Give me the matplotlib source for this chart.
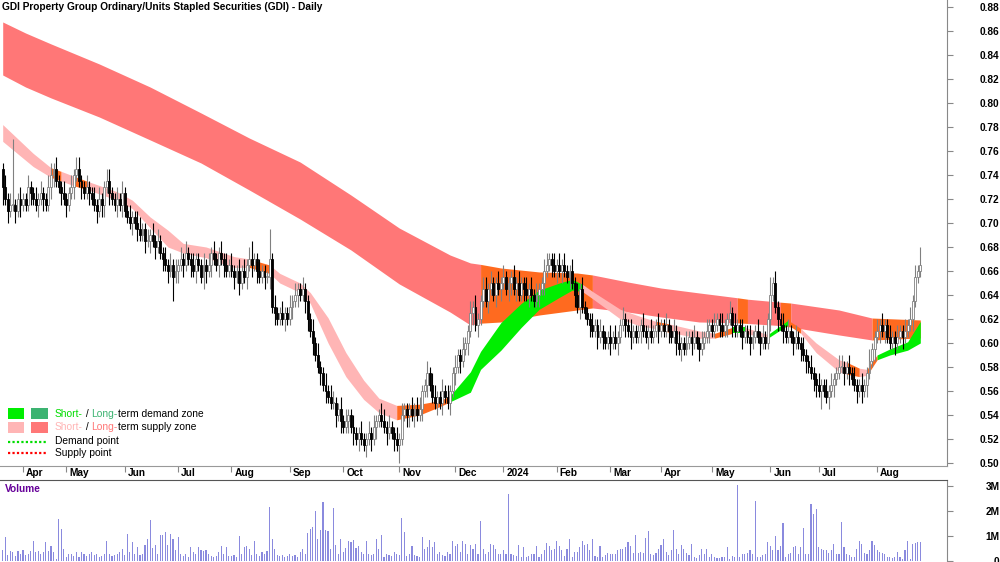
import matplotlib
matplotlib.use("Agg")
import matplotlib.pyplot as plt
import matplotlib.transforms as mtransforms
from matplotlib.patches import Rectangle
import numpy as np
import pandas as pd

plt.rcParams['font.family'] = ['Liberation Sans', 'DejaVu Sans']

TITLE = "GDI Property Group Ordinary/Units Stapled Securities (GDI) - Daily"
START = "2023-03-22"
END = "2024-08-26"
HOLIDAYS = ["2023-04-07", "2023-04-10", "2023-04-25", "2023-06-12", "2023-12-25",
            "2023-12-26", "2024-01-01", "2024-01-26", "2024-03-29", "2024-04-01",
            "2024-04-25", "2024-06-10"]

# daily closes in cents, open of first day separately
FIRST_OPEN = 74.5
CLOSES = [
    73.0, 72.0, 71.0, 71.5, 71.5, 71.0, 72.0, 71.5, 72.0, 71.5,
    73.0, 72.5, 72.0, 71.5, 72.0, 72.5, 72.0, 71.5, 73.0, 74.0,
    74.5, 73.5, 73.0, 72.5, 72.0, 71.5, 72.5, 73.0, 74.0, 74.5,
    73.5, 73.0, 72.5, 73.0, 72.5, 72.0, 71.5, 71.0, 72.0, 71.5,
    73.0, 73.5, 72.5, 72.0, 71.5, 72.0, 71.5, 72.5, 71.0, 70.5,
    70.0, 70.5, 70.0, 69.5, 69.0, 69.5, 68.5, 68.5, 69.0, 68.5,
    68.0, 68.5, 67.5, 67.0, 66.5, 66.0, 66.5, 65.5, 66.0, 66.5,
    67.0, 66.5, 67.5, 67.0, 66.5, 66.0, 67.0, 66.5, 65.5, 66.5,
    66.0, 66.5, 67.5, 67.0, 66.5, 67.5, 67.0, 66.5, 66.0, 66.5,
    66.0, 65.5, 66.0, 65.0, 66.0, 65.5, 66.5, 67.0, 66.5, 67.0,
    66.0, 65.5, 66.0, 65.5, 65.5, 67.0, 63.0, 62.5, 62.0, 62.5,
    62.0, 62.5, 62.0, 63.0, 63.5, 64.0, 64.5, 64.0, 64.5, 63.5,
    62.0, 61.0, 60.0, 59.0, 58.0, 57.5, 56.5, 56.0, 55.5, 55.0,
    55.0, 54.0, 54.5, 53.5, 53.0, 53.5, 54.0, 53.0, 52.5, 52.0,
    52.5, 52.0, 51.5, 52.0, 52.5, 52.0, 53.0, 53.5, 54.0, 53.5,
    53.0, 52.5, 53.0, 52.5, 52.0, 51.5, 52.0, 54.0, 54.5, 54.0,
    54.5, 54.0, 54.5, 54.0, 54.5, 56.0, 56.5, 57.5, 56.5, 55.5,
    55.0, 55.5, 55.0, 56.0, 55.5, 55.0, 56.0, 57.5, 58.0, 59.0,
    58.5, 59.5, 60.0, 61.0, 62.5, 63.0, 61.5, 62.0, 63.5, 64.5,
    63.5, 64.5, 65.0, 64.0, 65.0, 64.5, 65.0, 65.5, 64.5, 65.0,
    65.5, 64.5, 65.0, 64.0, 65.0, 64.5, 64.0, 64.5, 64.0, 63.5,
    64.0, 64.5, 65.0, 66.0, 66.5, 67.0, 66.5, 66.0, 66.5, 66.0,
    66.5, 66.0, 65.5, 66.0, 65.0, 64.0, 63.0, 64.5, 63.0, 62.5,
    62.0, 61.5, 61.0, 61.5, 60.5, 61.0, 60.5, 60.0, 60.5, 60.0,
    60.5, 60.0, 60.5, 61.5, 62.0, 61.5, 61.0, 60.5, 61.0, 60.5,
    61.0, 61.5, 61.0, 60.5, 61.0, 60.5, 61.0, 61.5, 61.0, 61.5,
    61.0, 61.5, 61.0, 60.5, 61.0, 60.0, 59.5, 60.0, 59.5, 60.0,
    60.5, 60.0, 60.5, 60.0, 59.5, 60.0, 60.5, 61.0, 61.5, 61.0,
    61.5, 62.0, 61.5, 61.0, 61.5, 62.0, 62.5, 61.5, 61.0, 61.5,
    61.0, 60.5, 61.0, 60.5, 60.0, 60.5, 61.0, 60.5, 60.0, 60.5,
    60.0, 62.0, 64.0, 65.0, 63.0, 62.0, 61.5, 61.0, 60.5, 61.0,
    60.5, 60.0, 60.5, 60.0, 59.5, 59.0, 58.5, 58.0, 57.5, 57.0,
    56.5, 56.0, 56.5, 56.0, 55.5, 56.0, 56.5, 57.0, 57.5, 58.0,
    58.0, 57.5, 58.0, 57.5, 57.0, 56.5, 56.0, 56.5, 56.0, 56.5,
    57.5, 58.5, 59.5, 60.5, 61.0, 61.5, 61.0, 61.5, 60.5, 60.0,
    60.5, 60.0, 60.5, 61.0, 60.5, 61.0, 61.5, 62.0, 63.5, 65.5,
    66.0, 66.5,
]
# wick lengths above / below the body, in half cents (base 36 digits)
UP_WICK = ("1212b11211" "2112121122" "1211211212" "2112112121" "1221121211"
           "2112211212" "1211212121" "2121121112" "1212112121" "2112121231"
           "1211151211" "2112121121" "1121211212" "2112121121" "1211212112"
           "2121121211" "1212211212" "2112121121" "1211212112" "2121121211"
           "1212112121" "2112211212" "1211212121" "1121121112" "1211211211"
           "1121121121" "1211212112" "1121121211" "2112112121" "1211211212"
           "1131211212" "1121121121" "1211212112" "2112121121" "1211212112"
           "1121121212" "13")
DN_WICK = ("3121121211" "1211212112" "2112121121" "1211211212" "2121121211"
           "1212112121" "2112121412" "1211212112" "2121121211" "1212112121"
           "2112121211" "1211212112" "2121121211" "1212112121" "2112121211"
           "1211213112" "2121121211" "1212112121" "2112121211" "1211212112"
           "2121121211" "1212112121" "2112121211" "1211212112" "1121121211"
           "1211211121" "1121121211" "1211211121" "1121121211" "1211211121"
           "1121121211" "1211212112" "2131121211" "1212112121" "2112121211"
           "1211211121" "11")

VOLUME_M = [
    0.45, 0.95, 0.25, 0.4, 0.35, 0.2, 0.4, 0.3, 0.45, 0.25,
    0.3, 0.4, 0.8, 0.35, 0.4, 0.3, 0.35, 0.75, 0.4, 0.6,
    0.35, 0.1, 1.7, 1.3, 0.5, 0.15, 0.3, 0.3, 0.2, 0.35,
    0.15, 0.35, 0.3, 0.2, 0.3, 0.35, 0.25, 0.3, 0.15, 0.2,
    0.3, 0.8, 0.3, 0.2, 0.25, 0.3, 0.35, 0.5, 0.25, 1.08,
    0.35, 0.75, 0.3, 0.55, 0.25, 0.3, 0.64, 0.88, 1.64, 0.53,
    0.64, 0.3, 1.04, 1.04, 1.16, 0.64, 1.08, 0.9, 0.45, 0.95,
    0.3, 0.2, 0.3, 0.15, 0.55, 0.35, 0.3, 0.55, 0.45, 0.4,
    0.45, 0.3, 0.2, 0.15, 0.2, 0.35, 0.6, 0.3, 0.55, 0.2,
    0.2, 0.25, 0.15, 1.0, 0.3, 0.55, 0.6, 0.47, 0.25, 0.8,
    0.3, 0.2, 0.35, 0.3, 0.4, 2.17, 0.9, 0.47, 0.25, 0.2,
    0.25, 0.15, 0.2, 0.3, 0.2, 0.25, 0.15, 0.35, 0.5, 0.3,
    1.13, 1.28, 1.37, 2.0, 0.9, 1.24, 2.36, 1.24, 1.2, 0.5,
    2.13, 0.64, 0.3, 0.9, 0.37, 0.53, 0.8, 0.77, 0.84, 0.53,
    0.6, 0.37, 0.3, 0.8, 0.3, 0.25, 0.3, 0.87, 0.47, 1.04,
    0.17, 0.3, 0.25, 0.2, 0.35, 0.3, 0.25, 1.73, 1.17, 0.2,
    0.3, 0.6, 0.25, 0.2, 0.15, 0.95, 0.5, 0.57, 0.84, 0.57,
    0.77, 0.3, 0.37, 0.25, 0.2, 0.37, 0.3, 0.8, 0.6, 0.7,
    0.35, 0.8, 0.7, 0.3, 0.64, 0.5, 0.7, 0.3, 1.61, 0.5,
    0.3, 0.37, 0.7, 0.64, 0.47, 0.3, 0.3, 0.44, 0.3, 2.68,
    0.27, 0.24, 0.2, 0.64, 0.15, 0.55, 0.17, 0.2, 0.3, 0.27,
    0.6, 0.17, 0.3, 0.44, 0.73, 0.6, 0.44, 0.47, 0.81, 0.6,
    0.44, 0.2, 0.5, 0.87, 0.17, 0.37, 0.37, 0.55, 0.81, 0.64,
    0.68, 0.44, 0.88, 0.2, 0.15, 0.6, 0.17, 0.24, 0.33, 0.27,
    0.27, 0.27, 0.44, 0.5, 0.5, 0.55, 0.77, 0.6, 0.33, 1.04,
    0.33, 0.37, 0.33, 0.93, 1.21, 0.3, 0.24, 0.33, 0.47, 0.64,
    0.87, 0.37, 0.24, 0.44, 1.24, 0.47, 0.3, 0.64, 0.5, 0.33,
    0.24, 0.68, 0.17, 0.13, 0.25, 0.5, 0.27, 0.47, 0.17, 0.27,
    0.17, 0.13, 0.13, 0.17, 0.17, 0.55, 0.1, 0.2, 0.15, 3.04,
    0.17, 0.27, 0.27, 0.33, 0.44, 0.3, 2.41, 0.17, 0.17, 0.24,
    0.27, 0.75, 0.6, 0.44, 1.0, 0.44, 0.6, 1.53, 0.17, 0.3,
    0.33, 0.55, 0.6, 0.3, 0.55, 1.31, 0.27, 0.3, 2.27, 1.88,
    2.1, 0.55, 0.5, 0.44, 0.44, 0.33, 0.44, 0.68, 0.3, 0.27,
    1.56, 0.55, 0.3, 0.24, 0.17, 0.17, 0.5, 0.81, 0.68, 0.33,
    0.27, 0.44, 0.81, 0.64, 0.44, 0.37, 0.33, 0.3, 0.17, 0.17,
    0.13, 0.17, 0.37, 0.17, 0.1, 0.45, 0.81, 0.1, 0.67, 0.71,
    0.77, 0.75,
]

# long-term zone edges at sample days; one colour code per segment
LT_IDX = [0, 9, 19, 38, 58, 78, 97, 117, 137, 156, 176, 184, 188, 196, 211,
          226, 232, 246, 259, 274, 289, 293, 306, 310, 329, 342, 361]
LT_TOP = [0.8675, 0.8583, 0.8492, 0.8325, 0.8133, 0.7917, 0.7708, 0.7508, 0.7233,
          0.6958, 0.6733, 0.6667, 0.6655, 0.6625, 0.6592, 0.6583, 0.6567, 0.6508,
          0.6458, 0.6417, 0.6377, 0.6365, 0.634, 0.6333, 0.6275, 0.6208, 0.6192]
LT_BOT = [0.8233, 0.8133, 0.8042, 0.7883, 0.7692, 0.75, 0.7275, 0.7033, 0.6775,
          0.6492, 0.6258, 0.615, 0.6165, 0.6175, 0.6233, 0.6275, 0.6292, 0.6258,
          0.6217, 0.6175, 0.6168, 0.6163, 0.6145, 0.6133, 0.6067, 0.6025, 0.6042]
LT_CLR = "rrrrrrrrrrrr" "oooo" "rrrr" "o" "r" "o" "rr" "o"

# short-term zone
ST_IDX = [0, 12, 19, 23, 28, 33, 45, 51, 58, 65, 71, 80, 91, 97, 105, 109, 117, 121,
          128, 135, 142, 148, 155, 164, 172, 176, 184, 188, 196, 204, 211, 219, 224,
          228, 232, 243, 251, 257, 262, 274, 280, 287, 292, 301, 309, 314, 320, 329,
          332, 337, 340, 344, 349, 356, 361]
ST_TOP = [0.782, 0.758, 0.746, 0.743, 0.739, 0.735, 0.726, 0.719, 0.705, 0.694, 0.683,
          0.680, 0.672, 0.670, 0.665, 0.658, 0.650, 0.642, 0.621, 0.592, 0.569, 0.554,
          0.548, 0.549, 0.552, 0.556, 0.576, 0.593, 0.617, 0.633, 0.644, 0.650, 0.653,
          0.649, 0.643, 0.628, 0.622, 0.618, 0.616, 0.610, 0.608, 0.613, 0.613, 0.607,
          0.619, 0.612, 0.600, 0.586, 0.584, 0.579, 0.578, 0.590, 0.595, 0.601, 0.618]
ST_BOT = [0.768, 0.747, 0.738, 0.735, 0.731, 0.728, 0.719, 0.712, 0.696, 0.680, 0.675,
          0.671, 0.663, 0.663, 0.658, 0.650, 0.642, 0.633, 0.600, 0.572, 0.553, 0.542,
          0.536, 0.540, 0.547, 0.551, 0.559, 0.578, 0.594, 0.613, 0.628, 0.638, 0.644,
          0.643, 0.637, 0.620, 0.614, 0.612, 0.609, 0.604, 0.604, 0.608, 0.608, 0.604,
          0.615, 0.608, 0.592, 0.576, 0.574, 0.572, 0.573, 0.586, 0.590, 0.594, 0.600]
ST_CLR = ("pp" "o" "p" "o" "pppppppp" "o" "ppppppp" "p" "ooo" "gggggggg" "pppp" "o"
          "pp" "o" "g" "p" "g" "o" "ppp" "o" "p" "o" "ggg")

PRICE_TICKS = [0.50, 0.52, 0.54, 0.56, 0.58, 0.60, 0.62, 0.64, 0.66, 0.68, 0.70,
               0.72, 0.74, 0.76, 0.78, 0.80, 0.82, 0.84, 0.86, 0.88]
VOL_TICKS = [0, 1, 2, 3]
VOL_LABELS = ["0", "1M", "2M", "3M"]

ZONE_COLORS = {"r": "#FF7777", "p": "#FFB5B5", "o": "#FF6A1F", "g": "#00EE00"}
SHORT_DEMAND = "#00EE00"
LONG_DEMAND = "#3CB371"
SHORT_SUPPLY = "#FFB5B5"
LONG_SUPPLY = "#FF7777"
FS = 7.3


def draw_zone(ax, idx, top, bot, codes):
    s = 0
    while s < len(codes):
        e = s
        while e + 1 < len(codes) and codes[e + 1] == codes[s]:
            e += 1
        ax.fill_between(idx[s:e + 2], bot[s:e + 2], top[s:e + 2],
                        color=ZONE_COLORS[codes[s]], lw=0, zorder=1)
        s = e + 1


dates = pd.bdate_range(START, END, freq="C", holidays=HOLIDAYS)
n = min(len(dates), len(CLOSES), len(UP_WICK), len(DN_WICK), len(VOLUME_M))
x = np.arange(n)
c = np.array(CLOSES[:n]) / 100.0
o = np.array([FIRST_OPEN] + CLOSES[:n - 1]) / 100.0
upw = np.array([int(ch, 36) for ch in UP_WICK[:n]]) * 0.005
dnw = np.array([int(ch, 36) for ch in DN_WICK[:n]]) * 0.005
hi = np.maximum(o, c) + upw
lo = np.minimum(o, c) - dnw
up = c >= o

fig = plt.figure(figsize=(10, 5.62), dpi=100)
XLIM = (-1.06, 371.5)

# price panel
ax = fig.add_axes([0, 1 - 466 / 562, 0.947, 466 / 562])
ax.set_xlim(*XLIM)
ax.set_ylim(0.4975, 0.8858)
draw_zone(ax, LT_IDX, LT_TOP, LT_BOT, LT_CLR)
draw_zone(ax, ST_IDX, ST_TOP, ST_BOT, ST_CLR)

ax.vlines(x[up], lo[up], hi[up], color="#808080", lw=0.8, zorder=3)
ax.vlines(x[~up], lo[~up], hi[~up], color="black", lw=0.8, zorder=3)
body = np.maximum(np.abs(c - o), 0.0008)
bottom = np.minimum(o, c)
ax.bar(x[up], body[up], bottom=bottom[up], width=0.75, facecolor="white",
       edgecolor="#808080", lw=0.6, zorder=4)
ax.bar(x[~up], body[~up], bottom=bottom[~up], width=0.75, facecolor="black",
       edgecolor="black", lw=0.6, zorder=4)

ax.yaxis.tick_right()
ax.set_yticks(PRICE_TICKS)
ax.set_yticklabels([f"{v:.2f}" for v in PRICE_TICKS])
ax.tick_params(axis="y", length=4, color="#888888", labelsize=FS, pad=33.8)
for t in ax.get_yticklabels():
    t.set_ha("right")
    t.set_fontweight("bold")

months = dates[:n].to_period("M")
tick_idx = [i for i in range(1, n) if months[i] != months[i - 1]]
tick_lab = [str(dates[i].year) if dates[i].month == 1 else dates[i].strftime("%b")
            for i in tick_idx]
ax.set_xticks(tick_idx)
ax.set_xticklabels([])
ax.tick_params(axis="x", length=4, color="#888888", direction="out")
blend = mtransforms.blended_transform_factory(ax.transData, ax.transAxes)
for i, lab in zip(tick_idx, tick_lab):
    ax.text(i + 1.2, -0.0155, lab, transform=blend, ha="left", va="center",
            fontsize=FS, fontweight="bold", clip_on=False)

for s in ("left", "top"):
    ax.spines[s].set_visible(False)
ax.spines["right"].set_color("#888888")
ax.spines["bottom"].set_color("#999999")

# volume panel
vax = fig.add_axes([0, 0, 0.947, 82 / 562])
vax.set_xlim(*XLIM)
vax.set_ylim(-0.04, 3.24)
vax.bar(x, VOLUME_M[:n], width=0.45, color="#8A8ADE", lw=0)
vax.yaxis.tick_right()
vax.set_yticks(VOL_TICKS)
vax.set_yticklabels(VOL_LABELS)
vax.tick_params(axis="y", length=4, color="#888888", labelsize=FS, pad=33.8)
for t in vax.get_yticklabels():
    t.set_ha("right")
    t.set_fontweight("bold")
vax.set_xticks([])
for s in ("left", "bottom"):
    vax.spines[s].set_visible(False)
vax.spines["right"].set_color("#888888")
vax.spines["top"].set_color("#555555")

# overlay in pixel coordinates for title and legend
ov = fig.add_axes([0, 0, 1, 1], zorder=10)
ov.set_xlim(0, 1000)
ov.set_ylim(562, 0)
ov.axis("off")
ov.patch.set_alpha(0)

ov.text(2, 7, TITLE, fontsize=FS, fontweight="bold", va="center", ha="left")
ov.text(5, 489, "Volume", fontsize=FS, fontweight="bold", color="#660099",
        va="center", ha="left")

ov.add_patch(Rectangle((8, 408), 16, 11, color=SHORT_DEMAND, lw=0))
ov.add_patch(Rectangle((31, 408), 17, 11, color=LONG_DEMAND, lw=0))
ov.add_patch(Rectangle((8, 422), 16, 11, color=SHORT_SUPPLY, lw=0))
ov.add_patch(Rectangle((31, 422), 17, 11, color=LONG_SUPPLY, lw=0))
ov.plot([8, 48], [441.5, 441.5], color="#00DD00", lw=1.6, ls=(0, (1, 1)))
ov.plot([8, 48], [453, 453], color="#FF0000", lw=1.6, ls=(0, (1, 1)))

renderer = fig.canvas.get_renderer()


def chain(xp, yp, parts):
    for s, col in parts:
        t = ov.text(xp, yp, s, color=col, fontsize=7.4, va="center", ha="left")
        xp += t.get_window_extent(renderer=renderer).width


chain(55, 414, [("Short-", "#00DD00"), (" / ", "black"), ("Long-", LONG_DEMAND),
                ("term demand zone", "black")])
chain(55, 427.5, [("Short-", SHORT_SUPPLY), (" / ", "black"), ("Long-", LONG_SUPPLY),
                  ("term supply zone", "black")])
chain(55, 441.5, [("Demand point", "black")])
chain(55, 453.5, [("Supply point", "black")])

fig.savefig("out.png", dpi=100)
